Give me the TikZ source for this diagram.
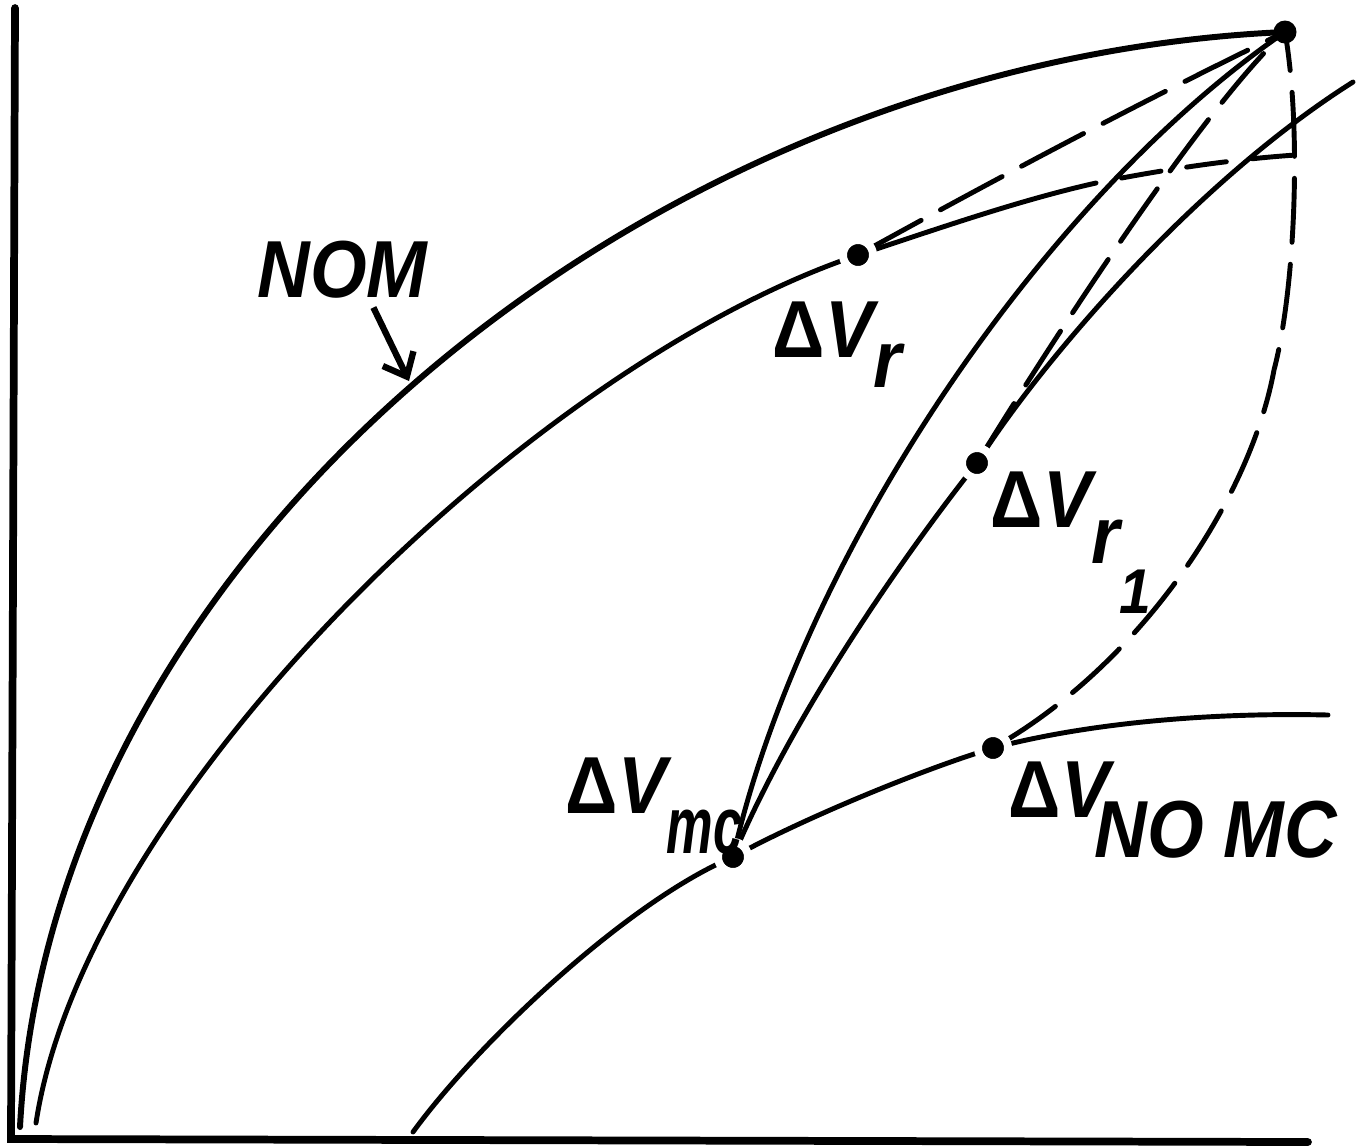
\documentclass[tikz,border=0pt]{standalone}
\usepackage{fontspec}
\usepackage{graphicx}
\setmainfont{Liberation Sans}[FakeStretch=0.9]
\usetikzlibrary{arrows.meta}

\tikzset{
  curve/.style={line width=1.4pt, line cap=round},
  dashcurve/.style={curve, dash pattern=on 0.64cm off 0.22cm},
  dot/.style={circle, fill=black, inner sep=0pt, minimum size=0.23cm},
  gapdot/.style={dot, draw=white, line width=0.08cm, minimum size=0.30cm},
  lbl/.style={font=\fontsize{23}{27}\selectfont\bfseries\itshape, inner sep=0pt, anchor=base west},
}

\begin{document}
\begin{tikzpicture}[x=0.01cm, y=-0.01cm]
    \useasboundingbox (0,0) rectangle (1363,1147);
    % 点
    \coordinate (top) at (1285,32);
    \coordinate (vr) at (858,255);
    \coordinate (vr1) at (977,463);
    \coordinate (vmc) at (733,857);
    \coordinate (vnomc) at (993,748);
    % 端点
    \coordinate (ytop) at (15,8);
    \coordinate (orig) at (11,1139);
    \coordinate (xend) at (1308,1142);
    \coordinate (nomstart) at (20,1127);
    \coordinate (vrstart) at (36,1123);
    \coordinate (mcstart) at (413,1132);
    \coordinate (nomcend) at (1328,715);
    \coordinate (vr1end) at (1353,82);
    \coordinate (vrbreak) at (1096,183);
    \coordinate (vrend) at (1313,154);
    \coordinate (nomtip) at (409,381);

    % 軸
    \draw[line width=2.2pt, line cap=round] (ytop) -- (orig) -- (xend);

    % 実線
    \draw[curve, line width=1.7pt] (nomstart) .. controls (50,550) and (650,60) .. (top);
    \draw[curve] (vrstart) .. controls (85,800) and (530,365) .. (vr);
    \draw[curve] (vr) .. controls (940,228) and (1020,200) .. (vrbreak);
    \draw[curve] (mcstart) .. controls (480,1040) and (630,900) .. (vmc)
                 .. controls (800,820) and (920,770) .. (vnomc)
                 .. controls (1080,725) and (1200,712) .. (nomcend);
    \draw[curve] (vmc) .. controls (800,560) and (1040,200) .. (top);
    \draw[curve] (vmc) .. controls (790,720) and (900,560) .. (vr1)
                 .. controls (1035,370) and (1190,185) .. (vr1end);

    % 破線
    \draw[dashcurve, dash pattern=on 0.7cm off 0.22cm, dash phase=0.9cm] (vr) .. controls (990,182) and (1140,102) .. (top);
    \draw[dashcurve, dash pattern=on 0.4cm off 0.26cm, dash phase=0.4cm] (vrbreak) .. controls (1170,168) and (1250,157) .. (vrend);
    \draw[dashcurve, dash phase=0.8cm] (vr1) .. controls (1040,360) and (1200,110) .. (top);
    \draw[dashcurve, dash phase=0.75cm] (vnomc) .. controls (1140,665) and (1250,500) .. (1274,370)
                 .. controls (1295,290) and (1302,130) .. (top);

    % 点とラベル
    \node[dot] (topdot) at (top) {};
    \node[gapdot] (vrdot) at (vr) {};
    \node[gapdot] (vr1dot) at (vr1) {};
    \node[gapdot] (vmcdot) at (vmc) {};
    \node[gapdot] (vnomcdot) at (vnomc) {};

    \node[lbl] (nom) at (257,297) {NOM};
    \draw[line width=1.8pt, shorten <=0.1cm, -{Straight Barb[length=0.2cm, width=0.34cm]}] (nom.-48) -- (nomtip);
    \node[lbl] (lvr) at (772,357) {{\upshape Δ}V\raisebox{-0.3cm}{r}};
    \node[lbl] (lvr1) at (990,527) {{\upshape Δ}V\raisebox{-0.36cm}{r}\raisebox{-0.86cm}{\fontsize{18}{20}\selectfont 1}};
    \node[lbl] (lvmc) at (565,813) {{\upshape Δ}V\raisebox{-0.4cm}{\scalebox{0.72}[1]{mc}}};
    \node[lbl] (lvnomc) at (1008,817) {{\upshape Δ}V\kern-0.15cm\raisebox{-0.4cm}{NO MC}};
\end{tikzpicture}
\end{document}
